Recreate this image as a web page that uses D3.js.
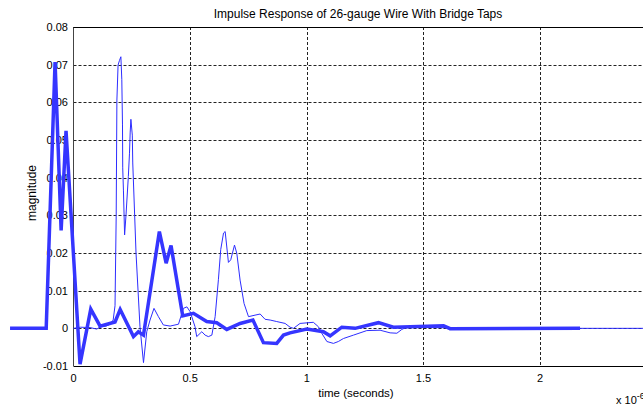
<!DOCTYPE html>
<html>
<head>
<meta charset="utf-8">
<script src="https://cdn.jsdelivr.net/npm/d3@7"></script>
<style>
  body { margin: 0; background: #fff; }
  svg { display: block; font-family: "Liberation Sans", Arial, Helvetica, sans-serif; }
</style>
</head>
<body>
<svg id="chart" width="643" height="406"></svg>
<script>
// ---- data (time in units of 1e-6 s, magnitude) ----
const title = "Impulse Response of 26-gauge Wire With Bridge Taps";
const xLabel = "time (seconds)";
const yLabel = "magnitude";
const xTicks = [0, 0.5, 1, 1.5, 2];
const xTickLabels = ["0", "0.5", "1", "1.5", "2"];
const yTicks = [-0.01, 0, 0.01, 0.02, 0.03, 0.04, 0.05, 0.06, 0.07, 0.08];
const yTickLabels = ["-0.01", "0", "0.01", "0.02", "0.03", "0.04", "0.05", "0.06", "0.07", "0.08"];

// thick line (sampled response)
const thickT = [-0.272, -0.117, -0.079, -0.053, -0.032, 0.028, 0.074, 0.114, 0.178, 0.200, 0.257, 0.278, 0.300,
  0.368, 0.397, 0.418, 0.468, 0.514, 0.571, 0.614, 0.657, 0.714, 0.769, 0.814, 0.871, 0.900, 0.928,
  1.000, 1.071, 1.100, 1.150, 1.207, 1.307, 1.371, 1.586, 1.614, 2.171];
const thickV = [0, 0, 0.0707, 0.026, 0.0524, -0.0095, 0.0051, 0.0006, 0.0017, 0.0050, -0.0022, -0.0009, -0.0018,
  0.0257, 0.0173, 0.0220, 0.0033, 0.0040, 0.0018, 0.0015, -0.0003, 0.0013, 0.0022, -0.0038, -0.0040, -0.0018, -0.0012,
  -0.0002, -0.0009, -0.0020, 0.0003, 0.0000, 0.0015, 0.0003, 0.0007, -0.0001, 0];

// thin line (continuous response)
const thinT = [0, 0.03, 0.071, 0.1, 0.114, 0.14, 0.157, 0.170, 0.178, 0.183, 0.186, 0.191, 0.197, 0.203, 0.207, 0.210,
  0.211, 0.214, 0.219, 0.225, 0.235, 0.240, 0.243, 0.246, 0.252, 0.254, 0.268, 0.285, 0.300, 0.314,
  0.328, 0.345, 0.364, 0.385, 0.414, 0.450, 0.471, 0.486, 0.500, 0.521, 0.528, 0.550, 0.564, 0.578,
  0.593, 0.607, 0.621, 0.631, 0.643, 0.650, 0.664, 0.674, 0.690, 0.700, 0.714, 0.731, 0.750, 0.778,
  0.800, 0.821, 0.843, 0.871, 0.907, 0.928, 0.943, 0.971, 1.028, 1.050, 1.064, 1.086, 1.114, 1.135,
  1.157, 1.200, 1.257, 1.314, 1.357, 1.386, 1.407, 1.428, 1.528, 1.828, 2.5];
const thinV = [0, 0.0003, 0.0002, -0.0002, 0.0004, 0.0006, 0.0011, 0.0022, 0.0060, 0.0300, 0.0606, 0.0699, 0.0711, 0.0721, 0.0661, 0.0540,
  0.0426, 0.0367, 0.0248, 0.0300, 0.0403, 0.0465, 0.0521, 0.0555, 0.0513, 0.0439, 0.0200, 0.0004, -0.0091, -0.0009,
  0.0022, 0.0053, 0.0031, 0.0009, 0.0006, 0.0011, 0.0053, 0.0057, 0.0044, 0.0004, -0.0022, -0.0009, -0.0018, -0.0022,
  -0.0018, 0.0031, 0.0129, 0.0209, 0.0253, 0.0257, 0.0175, 0.0182, 0.0221, 0.0199, 0.0128, 0.0066, 0.0031, 0.0035,
  0.0038, 0.0024, 0.0022, 0.0018, 0.0013, 0.0003, 0.0000, 0.0013, 0.0016, 0.0004, -0.0013, -0.0035, -0.0040, -0.0035,
  -0.0027, -0.0018, -0.0006, -0.0005, -0.0012, -0.0013, -0.0003, 0.0003, 0.0002, 0, 0];

// ---- layout ----
const svg = d3.select("#chart");
const mLeft = 73.5, mRight = 656.8, mTop = 27, mBottom = 366;
const x = d3.scaleLinear().domain([0, 2.5]).range([mLeft, mRight]);
const y = d3.scaleLinear().domain([-0.01, 0.08]).range([mBottom, mTop]);

const thin = thinT.map((t, i) => [t, thinV[i]]);
const thick = thickT.map((t, i) => [t, thickV[i]]);

// grid (dotted)
const grid = svg.append("g").attr("stroke", "#222").attr("stroke-width", 1).attr("stroke-dasharray", "3,2");
yTicks.filter(v => v > -0.01 && v < 0.08).forEach(v => {
  const yy = Math.round(y(v)) + 0.5;
  grid.append("line").attr("x1", mLeft).attr("x2", 643).attr("y1", yy).attr("y2", yy);
});
xTicks.filter(v => v > 0).forEach(v => {
  const xx = Math.round(x(v)) + 0.5;
  grid.append("line").attr("x1", xx).attr("x2", xx).attr("y1", mTop).attr("y2", mBottom);
});

// tick labels
const lab = svg.append("g").attr("font-size", 11).attr("fill", "#000");
yTicks.forEach((v, i) => {
  lab.append("text").attr("x", 68).attr("y", y(v)).attr("dy", "0.35em")
    .attr("text-anchor", "end").text(yTickLabels[i]);
});
xTicks.forEach((v, i) => {
  lab.append("text").attr("x", x(v)).attr("y", 382).attr("text-anchor", "middle").text(xTickLabels[i]);
});

// axes box
svg.append("line").attr("x1", mLeft).attr("x2", mLeft).attr("y1", mTop).attr("y2", mBottom)
  .attr("stroke", "#444").attr("stroke-width", 1);
svg.append("line").attr("x1", mLeft).attr("x2", 643).attr("y1", Math.round(mBottom) + 0.5).attr("y2", Math.round(mBottom) + 0.5)
  .attr("stroke", "#000").attr("stroke-width", 1);
svg.append("line").attr("x1", mLeft).attr("x2", 643).attr("y1", mTop + 0.5).attr("y2", mTop + 0.5)
  .attr("stroke", "#000").attr("stroke-width", 1);

// lines
const line = d3.line().x(d => x(d[0])).y(d => y(d[1]));
svg.append("path").datum(thin).attr("d", line).attr("fill", "none")
  .attr("stroke", "#2d2dff").attr("stroke-width", 1).attr("stroke-linejoin", "round");
svg.append("path").datum(thick).attr("d", line).attr("fill", "none")
  .attr("stroke", "#3535ff").attr("stroke-width", 3.5).attr("stroke-linejoin", "miter").attr("stroke-miterlimit", 4);

// titles
svg.append("text").attr("x", 358).attr("y", 18).attr("text-anchor", "middle")
  .attr("font-size", 12).text(title);
svg.append("text").attr("x", 356).attr("y", 397).attr("text-anchor", "middle")
  .attr("font-size", 11.5).text(xLabel);
svg.append("text").attr("transform", "translate(36,193) rotate(-90)").attr("text-anchor", "middle")
  .attr("font-size", 12).text(yLabel);
const ex = svg.append("text").attr("x", 616).attr("y", 404).attr("font-size", 11);
ex.append("tspan").text("x 10");
ex.append("tspan").attr("dy", -5).attr("font-size", 9).text("-6");
</script>
</body>
</html>
